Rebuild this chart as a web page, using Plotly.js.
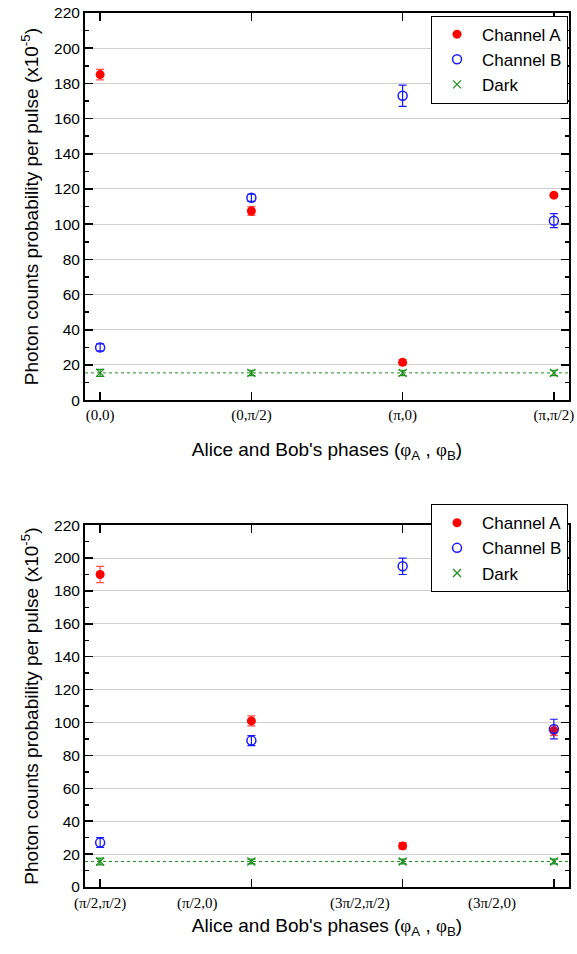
<!DOCTYPE html>
<html>
<head>
<meta charset="utf-8">
<script src="https://cdn.plot.ly/plotly-3.0.1.min.js"></script>
<style>html,body{margin:0;padding:0;background:#fff;}#chart{width:577px;height:954px;}</style>
</head>
<body>
<div id="chart"></div>
<script>
// ---- Data ----
const topCategories = [0, 1, 2, 3];
const topTickLabels = ["(0,0)", "(0,\u03c0/2)", "(\u03c0,0)", "(\u03c0,\u03c0/2)"];
const topChannelA = [185, 107.5, 21.5, 116.5];
const topChannelAErr = [3, 2.5, 1.5, 1];
const topChannelB = [30, 115, 173, 102];
const topChannelBErr = [2, 2, 6, 4];
const topDark = [15.5, 15.5, 15.5, 15.5];
const topDarkErr = [2, 1.5, 1.5, 1.5];

const bottomCategories = [0, 1, 2, 3];
const bottomTickLabels = ["(\u03c0/2,\u03c0/2)", "(\u03c0/2,0)", "(3\u03c0/2,\u03c0/2)", "(3\u03c0/2,0)"];
const bottomLabelAt = [0, 0.64, 1.72, 2.59];
const bottomChannelA = [190, 101, 25, 95];
const bottomChannelAErr = [5, 3, 2, 3];
const bottomChannelB = [27, 89, 195, 96];
const bottomChannelBErr = [3, 3, 5, 6];
const bottomDark = [15.5, 15.5, 15.5, 15.5];
const bottomDarkErr = [2, 1.5, 1.5, 1.5];
const darkLevel = 15.5;

const seriesNames = ["Channel A", "Channel B", "Dark"];

// ---- Styling ----
const RED = "#ff0000", BLUE = "#1a1aff", GREEN = "#1f8f1f";
const sans = "Liberation Sans, Arial, sans-serif";
const serif = "Liberation Serif, Times New Roman, serif";

function traces(xa, ya, cats, A, Ae, B, Be, D, De, legend) {
  return [
    {x: cats, y: A, xaxis: xa, yaxis: ya, name: seriesNames[0], legend: legend, mode: "markers", type: "scatter",
     marker: {symbol: "circle", size: 9, color: RED},
     error_y: {type: "data", array: Ae, visible: true, color: "rgba(255,0,0,0.7)", thickness: 1.2, width: 4}},
    {x: cats, y: B, xaxis: xa, yaxis: ya, name: seriesNames[1], legend: legend, mode: "markers", type: "scatter",
     marker: {symbol: "circle-open", size: 9, color: BLUE, line: {width: 1.5, color: BLUE}},
     error_y: {type: "data", array: Be, visible: true, color: BLUE, thickness: 1.2, width: 4}},
    {x: cats, y: D, xaxis: xa, yaxis: ya, name: seriesNames[2], legend: legend, mode: "markers", type: "scatter",
     marker: {symbol: "x-thin-open", size: 8, color: GREEN, line: {width: 1.3, color: GREEN}},
     error_y: {type: "data", array: De, visible: true, color: GREEN, thickness: 1.2, width: 4}}
  ];
}

const data = [].concat(
  traces("x", "y", topCategories, topChannelA, topChannelAErr, topChannelB, topChannelBErr, topDark, topDarkErr, "legend"),
  traces("x2", "y2", bottomCategories, bottomChannelA, bottomChannelAErr, bottomChannelB, bottomChannelBErr, bottomDark, bottomDarkErr, "legend2")
);

const xTitle = "Alice and Bob's phases (<span style=\"font-family:Liberation Serif\">\u03c6</span><sub>A</sub> , <span style=\"font-family:Liberation Serif\">\u03c6</span><sub>B</sub>)";

const yCommon = {
  range: [0, 220], dtick: 20, tick0: 0, ticks: "inside", ticklen: 8, tickwidth: 1.5, tickcolor: "#000",
  showline: true, linecolor: "#000", linewidth: 2, mirror: "allticks",
  showgrid: true, gridcolor: "#cfcfcf", gridwidth: 1, zeroline: false,
  tickfont: {family: sans, size: 15.5, color: "#000"},
  minor: {dtick: 10, ticks: "inside", ticklen: 4, tickwidth: 1.5, tickcolor: "#000", showgrid: false},
  title: {text: "Photon counts probability per pulse (x10<sup>-5</sup>)", font: {family: sans, size: 19, color: "#000"}, standoff: 10},
  fixedrange: true
};
const xCommon = {
  range: [-0.1, 3.1], tickvals: [0, 1, 2, 3], ticks: "inside", ticklen: 8, tickwidth: 1.5, tickcolor: "#000",
  showline: true, linecolor: "#000", linewidth: 2, mirror: "allticks", showgrid: false, zeroline: false,
  tickfont: {family: serif, size: 15, color: "#000"}
};

const layout = {
  width: 577, height: 954,
  margin: {l: 85, r: 8, t: 13, b: 67},
  paper_bgcolor: "#fff", plot_bgcolor: "#fff",
  showlegend: true,
  xaxis: Object.assign({}, xCommon, {domain: [0, 1], anchor: "y", ticktext: topTickLabels,
    title: {text: xTitle, font: {family: sans, size: 19, color: "#000"}, standoff: 20}}),
  yaxis: Object.assign({}, yCommon, {domain: [0.557, 1], anchor: "x"}),
  xaxis2: Object.assign({}, xCommon, {domain: [0, 1], anchor: "y2", ticktext: ["", "", "", ""],
    title: {text: xTitle, font: {family: sans, size: 19, color: "#000"}, standoff: 28}}),
  yaxis2: Object.assign({}, yCommon, {domain: [0, 0.414], anchor: "x2"}),
  legend: {x: 0.998, y: 0.997, xanchor: "right", yanchor: "top", bgcolor: "#fff", bordercolor: "#000", borderwidth: 1,
           font: {family: sans, size: 17, color: "#000"}, tracegroupgap: 0, itemwidth: 40},
  legend2: {x: 0.998, y: 0.438, xanchor: "right", yanchor: "top", bgcolor: "#fff", bordercolor: "#000", borderwidth: 1,
           font: {family: sans, size: 17, color: "#000"}, tracegroupgap: 0, itemwidth: 40},
  shapes: [
    {type: "line", xref: "x domain", yref: "y", x0: 0, x1: 1, y0: darkLevel, y1: darkLevel, line: {color: GREEN, width: 1, dash: "dot"}, layer: "below"},
    {type: "line", xref: "x2 domain", yref: "y2", x0: 0, x1: 1, y0: darkLevel, y1: darkLevel, line: {color: GREEN, width: 1, dash: "dot"}, layer: "below"}
  ],
  annotations: bottomTickLabels.map((t, i) => ({
    text: t, x: bottomLabelAt[i], xref: "x2", y: 0, yref: "y2 domain", yanchor: "top", xanchor: "center",
    yshift: -6, showarrow: false, font: {family: serif, size: 15, color: "#000"}
  }))
};

Plotly.newPlot("chart", data, layout, {displayModeBar: false, staticPlot: true});
</script>
</body>
</html>
